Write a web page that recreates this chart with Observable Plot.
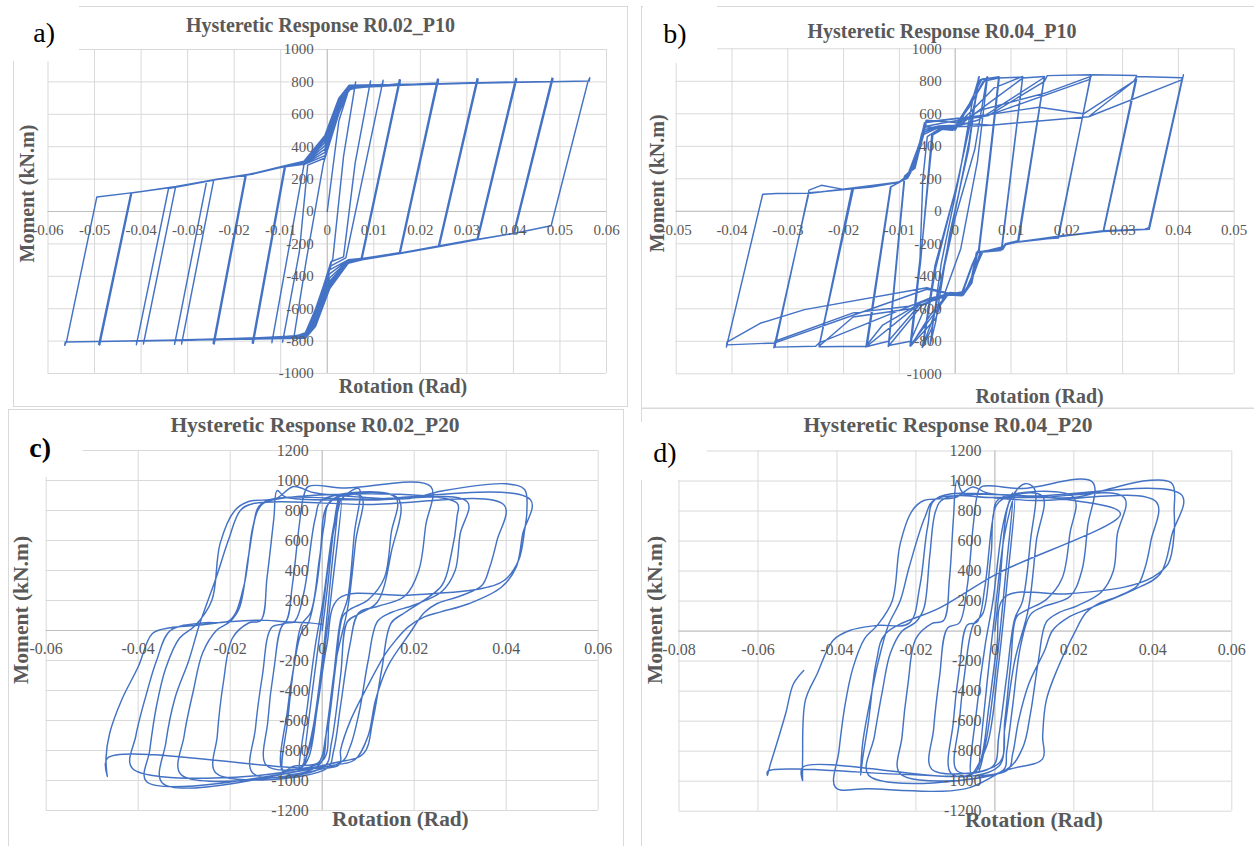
<!DOCTYPE html>
<html><head><meta charset="utf-8">
<script src="https://cdn.jsdelivr.net/npm/d3@7"></script>
<script src="https://cdn.jsdelivr.net/npm/@observablehq/plot@0.6"></script>
<style>
body{margin:0;background:#fff;}
#root{position:relative;width:1254px;height:846px;overflow:hidden;background:#fff;}
</style></head><body><div id="root"></div>
<script>
// ---------- tick values & labels ----------
const xTicksA = [-0.06,-0.05,-0.04,-0.03,-0.02,-0.01,0,0.01,0.02,0.03,0.04,0.05,0.06];
const xLabelsA = ["-0.06","-0.05","-0.04","-0.03","-0.02","-0.01","0","0.01","0.02","0.03","0.04","0.05","0.06"];
const xTicksB = [-0.05,-0.04,-0.03,-0.02,-0.01,0,0.01,0.02,0.03,0.04,0.05];
const xLabelsB = ["-0.05","-0.04","-0.03","-0.02","-0.01","0","0.01","0.02","0.03","0.04","0.05"];
const yTicks1000 = [1000,800,600,400,200,0,-200,-400,-600,-800,-1000];
const yLabels1000 = ["1000","800","600","400","200","0","-200","-400","-600","-800","-1000"];
const xTicksC = [-0.06,-0.04,-0.02,0,0.02,0.04,0.06];
const xLabelsC = ["-0.06","-0.04","-0.02","0","0.02","0.04","0.06"];
const xTicksD = [-0.08,-0.06,-0.04,-0.02,0,0.02,0.04,0.06];
const xLabelsD = ["-0.08","-0.06","-0.04","-0.02","0","0.02","0.04","0.06"];
const yTicks1200 = [1200,1000,800,600,400,200,0,-200,-400,-600,-800,-1000,-1200];
const yLabels1200 = ["1200","1000","800","600","400","200","0","-200","-400","-600","-800","-1000","-1200"];

const titles = ["Hysteretic Response R0.02_P10","Hysteretic Response R0.04_P10","Hysteretic Response R0.02_P20","Hysteretic Response R0.04_P20"];
const panelLetters = ["a)","b)","c)","d)"];
const xTitle = "Rotation (Rad)";
const yTitle = "Moment (kN.m)";

// ---------- series: [rotation (rad), moment (kN.m)] ----------
const pathA = [
[0,0],[0.0025,560],[0.0045,740],[0.0060,778],[0.0061,800],
[0.0035,340],[0.0012,-290],[-0.0025,-600],[-0.0047,-748],[-0.0072,-775],[-0.0073,-800],
[-0.0045,-300],[-0.0008,300],[0.0025,605],[0.0047,752],[0.0092,782],[0.0093,806],
[0.0060,300],[0.0035,-280],[0.0008,-310],[-0.0025,-615],[-0.0047,-755],[-0.0095,-782],[-0.0096,-806],
[-0.0060,-250],[-0.0042,286],[-0.0005,330],[0.0025,620],[0.0047,756],[0.0119,785],[0.0120,810],
[0.0040,-286],[0.0008,-335],[-0.0025,-628],[-0.0047,-758],[-0.0118,-785],[-0.0119,-810],
[-0.0050,290],[-0.0005,345],[0.0025,630],[0.0047,758],[0.0154,788],[0.0155,814],
[0.0073,-290],[0.0045,-298],[0.0005,-360],[-0.0025,-640],[-0.0047,-760],[-0.0158,-788],[-0.0159,-814],
[-0.0090,276],[-0.0050,292],[-0.0005,365],[0.0025,640],[0.0047,760],[0.0156,789],[0.0157,812],
[0.0075,-288],[0.0045,-300],[0.0005,-385],[-0.0025,-652],[-0.0047,-762],[-0.0160,-789],[-0.0161,-812],
[-0.0092,275],[-0.0050,294],[-0.0005,385],[0.0025,652],[0.0047,762],[0.0236,792],[0.0237,818],
[0.0155,-255],[0.0075,-290],[0.0045,-304],[0.0005,-410],[-0.0025,-665],[-0.0047,-765],[-0.0242,-792],[-0.0243,-818],
[-0.0174,226],[-0.0080,283],[-0.0050,296],[-0.0005,405],[0.0025,662],[0.0047,765],[0.0238,793],[0.0239,815],
[0.0157,-253],[0.0075,-292],[0.0045,-306],[0.0005,-430],[-0.0025,-676],[-0.0047,-767],[-0.0244,-793],[-0.0245,-815],
[-0.0176,225],[-0.0080,284],[-0.0050,298],[-0.0005,425],[0.0025,672],[0.0047,767],[0.0321,796],[0.0322,820],
[0.0239,-213],[0.0155,-257],[0.0075,-293],[0.0045,-308],[0.0005,-445],[-0.0025,-685],[-0.0047,-770],[-0.0327,-796],[-0.0328,-820],
[-0.0259,188],[-0.0158,232],[-0.0080,285],[-0.0050,300],[-0.0005,440],[0.0025,680],[0.0047,770],[0.0323,797],[0.0324,818],
[0.0241,-212],[0.0155,-258],[0.0075,-294],[0.0045,-310],[0.0005,-455],[-0.0025,-690],[-0.0047,-772],[-0.0312,-797],[-0.0313,-818],
[-0.0244,194],[-0.0158,233],[-0.0080,286],[-0.0050,302],[-0.0005,450],[0.0025,688],[0.0047,772],[0.0404,799],[0.0405,822],
[0.0322,-170],[0.0236,-215],[0.0154,-257],[0.0075,-294],[0.0045,-312],[0.0005,-460],[-0.0025,-695],[-0.0047,-774],[-0.0409,-799],[-0.0410,-822],
[-0.0341,142],[-0.0237,197],[-0.0158,232],[-0.0080,287],[-0.0050,304],[-0.0005,455],[0.0025,692],[0.0047,774],[0.0406,800],[0.0407,818],
[0.0324,-168],[0.0236,-216],[0.0154,-258],[0.0075,-295],[0.0045,-314],[0.0005,-465],[-0.0025,-698],[-0.0047,-776],[-0.0394,-800],[-0.0395,-818],
[-0.0326,150],[-0.0237,198],[-0.0158,233],[-0.0080,288],[-0.0050,306],[-0.0005,460],[0.0025,695],[0.0047,776],[0.0482,802],[0.0483,824],
[0.0400,-135],[0.0321,-172],[0.0236,-217],[0.0154,-259],[0.0075,-296],[0.0045,-316],[0.0005,-470],[-0.0025,-702],[-0.0047,-778],[-0.0488,-802],[-0.0489,-824],
[-0.0420,115],[-0.0325,152],[-0.0237,199],[-0.0158,234],[-0.0080,289],[-0.0050,308],[-0.0005,465],[0.0025,698],[0.0047,778],[0.0484,803],[0.0485,820],
[0.0402,-134],[0.0321,-173],[0.0236,-218],[0.0154,-260],[0.0075,-297],[0.0045,-318],[0.0005,-475],[-0.0025,-705],[-0.0047,-780],[-0.0490,-803],[-0.0491,-820],
[-0.0422,114],[-0.0325,153],[-0.0237,200],[-0.0158,235],[-0.0080,290],[-0.0050,310],[-0.0005,470],[0.0025,700],[0.0047,780],[0.0563,805],[0.0564,826],[0.0560,800],
[0.0481,-88],[0.0400,-136],[0.0321,-174],[0.0236,-219],[0.0154,-261],[0.0075,-298],[0.0045,-320],[0.0005,-478],[-0.0025,-708],[-0.0047,-782],[-0.0563,-805],[-0.0564,-826],[-0.0560,-800],
[-0.0495,90],[-0.0413,118],[-0.0325,154],[-0.0237,200]
];

const pathB = [
[0,0],[0.0025,430],[0.0042,826],
[0.0024,380],[-0.0010,-140],[-0.0035,-680],[-0.0045,-822],
[-0.0025,-320],[0.0008,230],[0.0032,700],[0.0043,828],
[0.0022,360],[-0.0012,-190],[-0.0042,-720],[-0.0058,-834],
[-0.0035,-350],[0.0004,180],[0.0038,720],[0.0057,826],
[0.0035,380],[0.0000,-40],[-0.0040,-660],[-0.0059,-838],
[-0.0036,-330],[0.0002,150],[0.0040,740],[0.0058,828],
[0.0040,310],[0.0010,-230],[-0.0035,-660],[-0.0079,-826],
[-0.0062,-300],[-0.0047,230],[-0.0040,470],[-0.0020,510],[0.0000,500],[0.0025,650],[0.0045,810],[0.0078,828],
[0.0060,280],[0.0042,-236],[0.0030,-330],[0.0012,-500],[-0.0015,-515],[-0.0045,-640],[-0.0080,-830],
[-0.0062,-310],[-0.0048,235],[-0.0042,470],[-0.0025,505],[-0.0005,498],[0.0025,660],[0.0048,815],[0.0079,826],
[0.0061,270],[0.0043,-240],[0.0032,-320],[0.0014,-495],[-0.0012,-510],[-0.0042,-650],[-0.0081,-828],
[-0.0063,-290],[-0.0058,200],[-0.0050,460],[-0.0030,505],[-0.0005,500],[0.0025,640],[0.0050,800],[0.0078,820],[0.0121,826],
[0.0084,-220],[0.0060,-240],[0.0040,-252],[0.0030,-420],[0.0015,-505],[-0.0010,-500],[-0.0050,-560],[-0.0080,-800],[-0.0119,-826],
[-0.0090,220],[-0.0072,265],[-0.0058,470],[-0.0032,512],[-0.0005,505],[0.0030,620],[0.0070,760],[0.0121,830],
[0.0083,-228],[0.0060,-244],[0.0038,-255],[0.0028,-430],[0.0013,-512],[-0.0012,-505],[-0.0060,-580],[-0.0120,-832],
[-0.0091,215],[-0.0074,270],[-0.0060,480],[-0.0035,515],[0.0000,510],[0.0050,640],[0.0121,820],[0.0160,830],
[0.0112,-185],[0.0092,-198],[0.0085,-235],[0.0050,-245],[0.0030,-400],[0.0015,-515],[-0.0010,-510],[-0.0060,-560],[-0.0120,-800],[-0.0158,-832],
[-0.0115,150],[-0.0100,180],[-0.0085,205],[-0.0070,300],[-0.0055,490],[-0.0030,520],[0.0000,520],[0.0040,560],[0.0160,825],
[0.0114,-180],[0.0090,-200],[0.0083,-238],[0.0048,-248],[0.0030,-420],[0.0012,-520],[-0.0010,-515],[-0.0070,-585],[-0.0160,-835],
[-0.0116,150],[-0.0100,178],[-0.0085,210],[-0.0068,320],[-0.0056,520],[-0.0020,545],[0.0060,590],[0.0160,800],[0.0165,835],[0.0243,840],
[0.0185,-165],[0.0150,-172],[0.0110,-188],[0.0090,-200],[0.0082,-236],[0.0045,-248],[0.0030,-420],[0.0015,-510],[-0.0010,-505],[-0.0050,-540],[-0.0130,-700],[-0.0160,-830],[-0.0244,-834],
[-0.0182,145],[-0.0150,150],[-0.0100,178],[-0.0085,215],[-0.0070,330],[-0.0057,500],[-0.0030,525],[0.0000,530],[0.0046,623],[0.0160,726],[0.0243,830],
[0.0184,-162],[0.0150,-175],[0.0110,-190],[0.0090,-202],[0.0082,-240],[0.0040,-250],[0.0028,-450],[0.0013,-515],[-0.0010,-510],[-0.0080,-600],[-0.0183,-650],[-0.0244,-830],
[-0.0185,140],[-0.0150,152],[-0.0100,180],[-0.0085,218],[-0.0068,350],[-0.0055,545],[0.0000,570],[0.0060,592],[0.0240,810],[0.0245,840],[0.0325,836],
[0.0265,-125],[0.0200,-145],[0.0150,-170],[0.0110,-188],[0.0090,-200],[0.0082,-236],[0.0040,-248],[0.0030,-420],[0.0015,-505],[-0.0010,-505],[-0.0050,-540],[-0.0244,-810],[-0.0250,-830],[-0.0323,-836],
[-0.0262,130],[-0.0240,160],[-0.0200,135],[-0.0150,155],[-0.0100,180],[-0.0085,220],[-0.0068,360],[-0.0051,551],[0.0060,595],[0.0150,640],[0.0230,600],[0.0325,812],
[0.0266,-122],[0.0200,-148],[0.0150,-172],[0.0110,-190],[0.0090,-205],[0.0082,-242],[0.0038,-252],[0.0028,-450],[0.0012,-510],[-0.0020,-515],[-0.0083,-584],[-0.0183,-625],[-0.0323,-800],[-0.0325,-840],
[-0.0262,115],[-0.0240,120],[-0.0150,150],[-0.0100,182],[-0.0085,222],[-0.0068,370],[-0.0052,560],[0.0064,530],[0.0239,582],[0.0320,800],[0.0325,830],[0.0407,822],
[0.0347,-100],[0.0340,-110],[0.0265,-120],[0.0200,-148],[0.0150,-172],[0.0110,-190],[0.0090,-205],[0.0082,-240],[0.0040,-252],[0.0030,-430],[0.0015,-510],[-0.0010,-505],[-0.0051,-470],[-0.0270,-605],[-0.0348,-687],[-0.0409,-805],[-0.0410,-835],
[-0.0345,105],[-0.0320,110],[-0.0260,111],[-0.0170,150],[-0.0100,180],[-0.0085,225],[-0.0068,380],[-0.0054,520],[-0.0030,515],[0.0064,530],[0.0239,582],[0.0407,810],[0.0409,840],
[0.0348,-110],[0.0265,-125],[0.0200,-150],[0.0150,-172],[0.0110,-190],[0.0090,-206],[0.0082,-242],[0.0040,-254],[0.0030,-440],[0.0015,-512],[-0.0010,-508],[-0.0051,-480],[-0.0183,-640],[-0.0323,-810],[-0.0409,-822]
];

const pathC = [
[0,0],[0.0012,300],[0.0028,760],[0.0036,889],
[0.0020,400],[0.0002,-150],[-0.0020,-650],[-0.0040,-900],
[-0.0022,-420],[0.0000,100],[0.0022,620],[0.0042,880],
[0.0022,300],[0.0000,-250],[-0.0025,-760],[-0.0049,-925],
[-0.0032,-500],[-0.0015,-100],[0.0002,200],[0.0025,700],[0.0040,870],[0.0080,945],
[0.0070,650],[0.0055,210],[0.0040,70],[0.0025,-300],[0.0008,-700],[-0.0008,-880],[-0.0062,-905],[-0.0085,-935],
[-0.0075,-600],[-0.0062,-250],[-0.0045,40],[-0.0025,120],[-0.0005,500],[0.0015,850],[0.0085,895],
[0.0073,600],[0.0056,160],[0.0030,-200],[0.0010,-650],[-0.0005,-890],[-0.0084,-945],
[-0.0075,-520],[-0.0060,-210],[-0.0046,-20],[-0.0030,50],[-0.0012,300],[0.0004,700],[0.0020,870],[0.0160,885],
[0.0150,650],[0.0135,350],[0.0100,205],[0.0060,140],[0.0045,95],[0.0030,-220],[0.0015,-600],[0.0000,-870],[-0.0121,-900],
[-0.0118,-600],[-0.0105,-260],[-0.0085,40],[-0.0060,60],[-0.0040,250],[-0.0015,750],[0.0000,870],[0.0165,880],
[0.0150,520],[0.0120,190],[0.0080,110],[0.0055,60],[0.0040,-300],[0.0020,-750],[0.0005,-905],[-0.0151,-950],
[-0.0145,-650],[-0.0130,-300],[-0.0110,20],[-0.0080,55],[-0.0065,300],[-0.0050,700],[-0.0040,900],[-0.0030,960],[0.0050,950],[0.0236,960],
[0.0225,700],[0.0210,400],[0.0180,230],[0.0120,160],[0.0080,120],[0.0060,-100],[0.0040,-500],[0.0025,-800],[0.0010,-920],[-0.0231,-950],
[-0.0228,-700],[-0.0215,-350],[-0.0195,-50],[-0.0160,50],[-0.0133,69],[-0.0120,350],[-0.0105,750],[-0.0098,933],[-0.0080,890],[0.0100,870],[0.0316,856],
[0.0300,645],[0.0289,400],[0.0260,260],[0.0200,170],[0.0150,120],[0.0120,60],[0.0100,-200],[0.0080,-550],[0.0060,-780],[0.0040,-880],[-0.0307,-960],
[-0.0300,-700],[-0.0280,-400],[-0.0260,-150],[-0.0230,0],[-0.0200,60],[-0.0180,150],[-0.0160,500],[-0.0140,800],[-0.0120,860],[0.0293,850],[0.0293,756],
[0.0280,500],[0.0260,300],[0.0180,120],[0.0150,50],[0.0130,-250],[0.0110,-600],[0.0090,-820],[0.0030,-880],[-0.0347,-1018],
[-0.0340,-750],[-0.0320,-450],[-0.0290,-200],[-0.0267,38],[-0.0230,357],[-0.0204,601],[-0.0178,800],[-0.0151,845],[0.0100,840],[0.0396,834],
[0.0380,600],[0.0364,420],[0.0347,300],[0.0300,230],[0.0250,180],[0.0222,120],[0.0190,-20],[0.0142,-242],[0.0116,-463],[0.0100,-700],[0.0071,-862],[0.0027,-896],[-0.0382,-1007],
[-0.0375,-800],[-0.0360,-500],[-0.0340,-250],[-0.0310,-50],[-0.0276,33],[-0.0240,200],[-0.0222,579],[-0.0190,800],[-0.0160,860],[-0.0100,880],[-0.0062,960],[-0.0020,920],[0.0080,890],[0.0190,880],[0.0260,930],[0.0400,978],[0.0440,940],
[0.0445,800],[0.0440,667],[0.0427,468],[0.0396,335],[0.0347,280],[0.0187,235],[0.0036,213],[0.0010,-100],[-0.0010,-500],[-0.0030,-850],[-0.0049,-918],[-0.0413,-918],
[-0.0405,-700],[-0.0380,-400],[-0.0360,-200],[-0.0330,0],[-0.0260,50],[-0.0200,70],[-0.0170,300],[-0.0150,700],[-0.0130,850],[0.0100,875],[0.0453,871],
[0.0436,645],[0.0422,424],[0.0390,290],[0.0320,180],[0.0258,124],[0.0222,91],[0.0187,24],[0.0160,-64],[0.0138,-153],[0.0098,-375],[0.0062,-596],[0.0040,-796],[0.0036,-896],[-0.0467,-851],[-0.0467,-974],
[-0.0470,-851],[-0.0462,-685],[-0.0436,-463],[-0.0400,-242],[-0.0369,-20],[-0.0330,18],[-0.0276,33],[-0.0204,58],[-0.0133,69],[-0.0080,58],[-0.0027,51],[0.0000,40]
];

const pathD = [
[0,0],[0.0012,300],[0.0030,800],[0.0045,920],
[0.0028,400],[0.0005,-200],[-0.0020,-700],[-0.0040,-930],
[-0.0022,-400],[0.0000,120],[0.0025,650],[0.0050,900],
[0.0030,300],[0.0008,-250],[-0.0020,-760],[-0.0060,-950],
[-0.0045,-500],[-0.0025,-100],[-0.0005,200],[0.0020,700],[0.0040,880],[0.0076,982],[0.0100,950],
[0.0090,600],[0.0070,200],[0.0050,80],[0.0030,-300],[0.0010,-700],[-0.0005,-900],[-0.0096,-930],
[-0.0090,-600],[-0.0075,-250],[-0.0055,40],[-0.0030,120],[-0.0010,500],[0.0010,860],[0.0120,900],
[0.0105,600],[0.0085,150],[0.0050,-200],[0.0025,-650],[0.0010,-900],[-0.0110,-950],
[-0.0105,-600],[-0.0090,-250],[-0.0070,40],[-0.0045,60],[-0.0025,300],[-0.0005,750],[0.0010,880],[0.0200,890],
[0.0190,650],[0.0170,350],[0.0130,210],[0.0080,140],[0.0055,95],[0.0040,-220],[0.0025,-600],[0.0010,-880],[-0.0160,-920],
[-0.0155,-650],[-0.0140,-300],[-0.0120,20],[-0.0090,55],[-0.0070,300],[-0.0055,700],[-0.0045,900],[-0.0035,960],[0.0070,950],[0.0247,993],
[0.0235,700],[0.0220,400],[0.0190,230],[0.0120,160],[0.0090,110],[0.0065,-100],[0.0045,-500],[0.0030,-800],[0.0020,-930],[-0.0240,-950],
[-0.0235,-700],[-0.0220,-350],[-0.0200,-50],[-0.0160,50],[-0.0130,70],[-0.0115,350],[-0.0105,750],[-0.0096,1004],[-0.0080,920],[0.0100,890],[0.0328,889],
[0.0310,645],[0.0300,400],[0.0270,260],[0.0210,170],[0.0160,120],[0.0130,60],[0.0110,-200],[0.0090,-550],[0.0070,-780],[0.0025,-929],[-0.0320,-960],
[-0.0305,-700],[-0.0285,-400],[-0.0265,-150],[-0.0235,0],[-0.0200,60],[-0.0180,150],[-0.0165,500],[-0.0150,800],[-0.0130,880],[0.0200,870],[0.0318,782],
[0.0005,382],[-0.0136,160],[-0.0277,-18],[-0.0300,-200],[-0.0320,-600],[-0.0335,-850],[-0.0340,-960],
[-0.0335,-750],[-0.0315,-450],[-0.0295,-200],[-0.0270,38],[-0.0240,200],[-0.0217,427],[-0.0177,760],[-0.0151,878],[0.0100,870],[0.0409,860],
[0.0395,600],[0.0380,420],[0.0360,300],[0.0310,230],[0.0260,180],[0.0230,120],[0.0200,-20],[0.0160,-242],[0.0130,-463],[0.0121,-700],[0.0121,-851],[0.0025,-929],[-0.0076,-1051],[-0.0320,-1051],[-0.0404,-1040],
[-0.0395,-800],[-0.0380,-500],[-0.0360,-250],[-0.0330,-50],[-0.0298,38],[-0.0260,200],[-0.0240,579],[-0.0210,800],[-0.0180,870],[-0.0100,890],[-0.0056,960],[-0.0020,920],[0.0076,900],[0.0200,890],[0.0280,940],[0.0388,1004],[0.0449,982],
[0.0454,800],[0.0454,649],[0.0439,449],[0.0400,360],[0.0328,293],[0.0187,249],[0.0025,227],[0.0005,-100],[-0.0015,-500],[-0.0035,-850],[-0.0056,-951],[-0.0487,-907],[-0.0487,-996],
[-0.0487,-850],[-0.0480,-462],[-0.0450,-284],[-0.0410,-62],[-0.0368,4],[-0.0298,38],[-0.0217,53],[-0.0190,300],[-0.0170,700],[-0.0150,880],[0.0100,900],[0.0474,904],
[0.0449,649],[0.0419,382],[0.0348,271],[0.0237,149],[0.0187,93],[0.0146,4],[0.0126,-129],[0.0086,-351],[0.0060,-596],[0.0045,-818],[0.0030,-930],[-0.0575,-933],[-0.0576,-962],
[-0.0570,-900],[-0.0550,-729],[-0.0530,-551],[-0.0510,-351],[-0.0484,-262]
];

// ---------- layout (pixels) ----------
const panels = [
  {box:[13,6,614,400], frame:[47.5,606,49,373], xd:[-0.06,0.06], yd:[-1000,1000], xt:xTicksA, xl:xLabelsA, yt:yTicks1000, yl:yLabels1000, path:pathA, fs:15, curve:"linear",
   title:[320.5,31.5,20], xT:[403,393.3,20], yT:[34,193.5,20], letter:[33.3,42,28,"normal"], wbox:[0,0,79,61]},
  {box:[641,6,613,402], frame:[675.7,1233.7,48.3,373.3], xd:[-0.05,0.05], yd:[-1000,1000], xt:xTicksB, xl:xLabelsB, yt:yTicks1000, yl:yLabels1000, path:pathB, fs:15, curve:"linear",
   title:[942,37.5,20], xT:[1039.6,403,20], yT:[663.5,183.3,20], letter:[663.3,43,28,"normal"], wbox:[643,0,74,63]},
  {box:[8,409,615,437], frame:[45.7,597.7,450,810], xd:[-0.06,0.06], yd:[-1200,1200], xt:xTicksC, xl:xLabelsC, yt:yTicks1200, yl:yLabels1200, path:pathC, fs:16, curve:"catmull-rom",
   title:[315,431.5,21.5], xT:[400.4,826,21.3], yT:[27.5,610,21.5], letter:[29.3,457.3,28,"bold"], wbox:[12,412,70.7,65]},
  {box:[641,407,613,439], frame:[678.5,1231.3,450.5,810.7], xd:[-0.08,0.06], yd:[-1200,1200], xt:xTicksD, xl:xLabelsD, yt:yTicks1200, yl:yLabels1200, path:pathD, fs:16, curve:"catmull-rom",
   title:[948,431.5,21.5], xT:[1034,826.7,21.5], yT:[662,610,21.5], letter:[653.3,461.7,28,"normal"], wbox:[636,422,70.7,58]}
];

const root = document.getElementById("root");
const serif = "'Liberation Serif','Times New Roman',Times,serif";
const grey = "#595959";

panels.forEach(p => {
  const [bl, bt, bw, bh] = p.box;
  const [fx0, fx1, fy0, fy1] = p.frame;
  const svg = Plot.plot({
    width: bw, height: bh,
    marginLeft: fx0 - bl, marginRight: bl + bw - fx1,
    marginTop: fy0 - bt, marginBottom: bt + bh - fy1,
    x: {domain: p.xd, axis: null},
    y: {domain: p.yd, axis: null},
    style: {background: "transparent", overflow: "visible", maxWidth: "none"},
    marks: [
      Plot.ruleX(p.xt, {stroke: "#d9d9d9", strokeWidth: 1}),
      Plot.ruleY(p.yt, {stroke: "#d9d9d9", strokeWidth: 1}),
      Plot.ruleX([0], {stroke: "#bfbfbf", strokeWidth: 1}),
      Plot.ruleY([0], {stroke: "#bfbfbf", strokeWidth: 1}),
      Plot.line(p.path, {x: d => d[0], y: d => d[1], stroke: "#4472c4", strokeWidth: 1.45, strokeLinejoin: "round", curve: p.curve}),
      Plot.text(p.yt, {x: 0, y: d => d, text: (d, i) => p.yl[i], textAnchor: "end", lineAnchor: "middle", dx: -13.5, fill: grey, fontSize: p.fs, fontFamily: serif}),
      Plot.text(p.xt, {x: d => d, y: 0, text: (d, i) => p.xl[i], lineAnchor: "top", dy: p.fs === 15 ? 12.8 : 12.6, fill: grey, fontSize: p.fs, fontFamily: serif})
    ]
  });
  svg.style.position = "absolute";
  svg.style.left = bl + "px";
  svg.style.top = bt + "px";
  root.appendChild(svg);
});

// ---------- overlay: borders, title texts, panel letters ----------
const ov = d3.select(root).append("svg")
  .attr("width", 1254).attr("height", 846)
  .style("position", "absolute").style("left", "0px").style("top", "0px");

const borders = [[13,6,614,400],[641,6,620,402],[8,409,615,460],[641,407.5,620,460]];
ov.selectAll("rect.border").data(borders).join("rect").attr("class", "border")
  .attr("x", d => d[0] + 0.5).attr("y", d => d[1] + 0.5).attr("width", d => d[2]).attr("height", d => d[3])
  .attr("fill", "none").attr("stroke", "#d9d9d9").attr("stroke-width", 1);

panels.forEach((p, i) => {
  const [wx, wy, ww, wh] = p.wbox;
  ov.append("rect").attr("x", wx).attr("y", wy).attr("width", ww).attr("height", wh).attr("fill", "#fff");
  ov.append("text").text(panelLetters[i]).attr("x", p.letter[0]).attr("y", p.letter[1])
    .attr("font-family", serif).attr("font-size", p.letter[2]).attr("font-weight", p.letter[3]).attr("fill", "#000");
  ov.append("text").text(titles[i]).attr("x", p.title[0]).attr("y", p.title[1]).attr("text-anchor", "middle")
    .attr("font-family", serif).attr("font-size", p.title[2]).attr("font-weight", "bold").attr("fill", grey);
  ov.append("text").text(xTitle).attr("x", p.xT[0]).attr("y", p.xT[1]).attr("text-anchor", "middle")
    .attr("font-family", serif).attr("font-size", p.xT[2]).attr("font-weight", "bold").attr("fill", grey);
  ov.append("text").text(yTitle).attr("text-anchor", "middle")
    .attr("transform", `translate(${p.yT[0]},${p.yT[1]}) rotate(-90)`)
    .attr("font-family", serif).attr("font-size", p.yT[2]).attr("font-weight", "bold").attr("fill", grey);
});
</script>
</body></html>
